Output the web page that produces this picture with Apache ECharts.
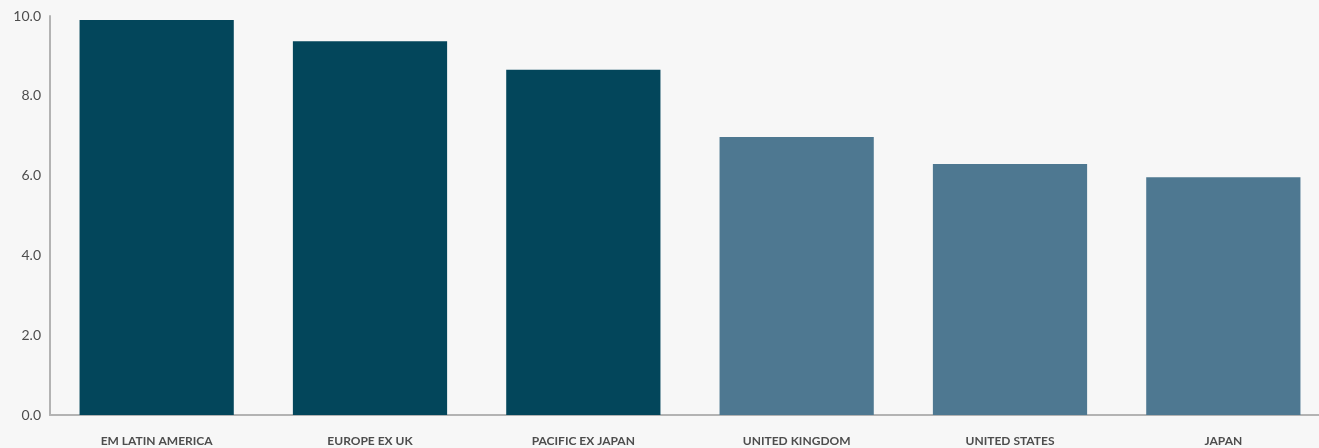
<!DOCTYPE html>
<html><head><meta charset="utf-8">
<script src="https://cdn.jsdelivr.net/npm/echarts@6/dist/echarts.min.js"></script>
<style>html,body{margin:0;padding:0;background:#f7f7f7;overflow:hidden}#c{width:1330px;height:448px}</style>
</head><body><div id="c"></div>
<script>
const categories = ['EM LATIN AMERICA','EUROPE EX UK','PACIFIC EX JAPAN','UNITED KINGDOM','UNITED STATES','JAPAN'];
const values = [9.9, 9.37, 8.65, 6.97, 6.29, 5.96];
const barColors = ['#03465b','#03465b','#03465b','#4e7891','#4e7891','#4e7891'];
const yTicks = [0, 2, 4, 6, 8, 10];

const chart = echarts.init(document.getElementById('c'));
chart.setOption({
  backgroundColor: '#f7f7f7',
  animation: false,
  grid: {left: 50, right: 0, top: 16, bottom: 33, containLabel: false},
  xAxis: {
    type: 'category', data: categories,
    axisLine: {lineStyle: {color: '#b3b3b3', width: 2}},
    axisTick: {show: false},
    axisLabel: {color: '#4d4d4d', fontFamily: 'Lato', fontWeight: 'bold', fontSize: 12, margin: 20, interval: 0}
  },
  yAxis: {
    type: 'value', min: yTicks[0], max: yTicks[yTicks.length-1], interval: 2,
    axisLine: {show: true, lineStyle: {color: '#b3b3b3', width: 2}},
    axisTick: {show: false},
    splitLine: {show: false},
    axisLabel: {color: '#4d4d4d', fontFamily: 'Lato', fontSize: 14, margin: 9, formatter: v => v.toFixed(1)}
  },
  series: [{
    type: 'bar', barWidth: '72.3%',
    data: values.map((v, i) => ({value: v, itemStyle: {color: barColors[i]}}))
  }]
});
</script></body></html>
